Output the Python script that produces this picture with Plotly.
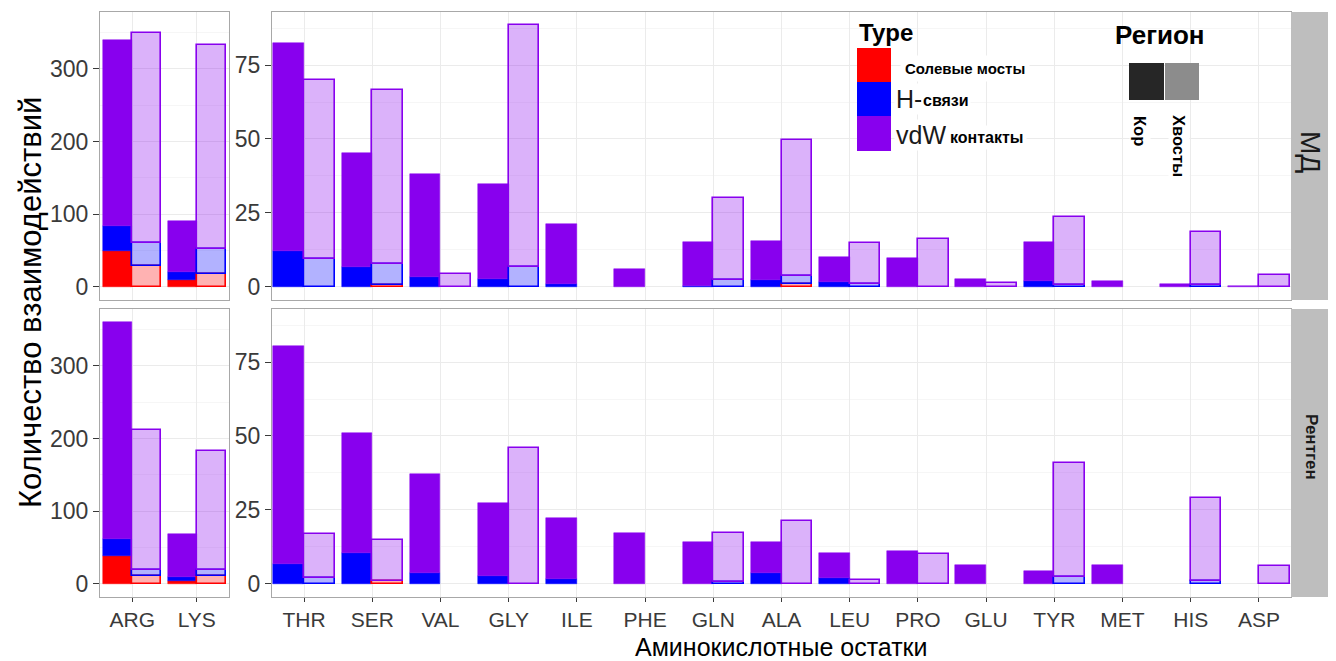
import plotly.graph_objects as go

# ---------------- data ----------------
left_cats = ["ARG", "LYS"]
right_cats = ["THR", "SER", "VAL", "GLY", "ILE", "PHE", "GLN", "ALA",
              "LEU", "PRO", "GLU", "TYR", "MET", "HIS", "ASP"]

type_names = ["Солевые мосты", "H-связи", "vdW контакты"]
region_names = ["Кор", "Хвосты"]
row_names = ["МД", "Рентген"]

# segment heights (salt bridges, H-bonds, vdW), stacked in that order
# --- МД, left (ARG, LYS)
md_left_core_salt = [49, 10]
md_left_core_hb = [35, 10]
md_left_core_vdw = [256, 70]
md_left_tail_salt = [29, 18]
md_left_tail_hb = [32, 34]
md_left_tail_vdw = [288, 281]
# --- Рентген, left
xr_left_core_salt = [39, 4.5]
xr_left_core_hb = [22.5, 4.5]
xr_left_core_vdw = [298.5, 59.5]
xr_left_tail_salt = [10.5, 11.5]
xr_left_tail_hb = [9, 8]
xr_left_tail_vdw = [192, 163]

# --- МД, right
md_right_core_salt = [0, 0, 0, 0, 0, 0, 0, 0, 0, 0, 0, 0, 0, 0, 0]
md_right_core_hb = [12.2, 6.9, 3.2, 2.6, 0.9, 0, 0.4, 2.4, 1.5, 0, 0, 2.0, 0, 0, 0]
md_right_core_vdw = [70.2, 38.4, 35.0, 32.1, 20.5, 6.2, 14.8, 13.1, 8.6, 9.7, 2.6, 13.3, 1.9, 1.1, 0.4]
md_right_tail_salt = [0, 0.8, 0, 0, 0, 0, 0, 1.0, 0, 0, 0, 0, 0, 0, 0]
md_right_tail_hb = [9.4, 6.9, 0, 6.9, 0, 0, 2.3, 2.7, 1.1, 0, 0, 0.8, 0, 0.6, 0]
md_right_tail_vdw = [60.6, 58.8, 4.5, 81.6, 0, 0, 27.9, 46.0, 13.6, 16.1, 1.3, 23.0, 0, 18.1, 3.9]

# --- Рентген, right
xr_right_core_salt = [0, 0, 0, 0, 0, 0, 0, 0, 0, 0, 0, 0, 0, 0, 0]
xr_right_core_hb = [6.6, 10.5, 3.8, 2.7, 1.8, 0, 0, 3.6, 1.9, 0, 0, 0, 0, 0, 0]
xr_right_core_vdw = [73.9, 40.5, 33.3, 24.6, 20.4, 17.2, 14.2, 10.6, 8.4, 11.2, 6.4, 4.4, 6.4, 0, 0]
xr_right_tail_salt = [0, 1.0, 0, 0, 0, 0, 0, 0, 0, 0, 0, 0, 0, 0, 0]
xr_right_tail_hb = [2.0, 0, 0, 0, 0, 0, 0.8, 0, 0, 0, 0, 2.2, 0, 1.0, 0]
xr_right_tail_vdw = [15.0, 14.0, 0, 46.0, 0, 0, 16.4, 21.1, 1.2, 10.1, 0, 38.8, 0, 28.1, 6.1]

y_ticks_left = [0, 100, 200, 300]
y_ticks_right = [0, 25, 50, 75]

# ---------------- styling ----------------
W, H = 1336, 661
type_rgb = [(255, 0, 0), (0, 0, 255), (136, 0, 238)]
FONT = "Liberation Sans, Arial, sans-serif"
TICKCOL = "#3a3a3a"
GRID = "#EBEBEB"
BORDER = "#A8A8A8"


def px_x(p):
    return p / W


def px_y(p):
    return 1 - p / H


panels = {
    (0, 0): ("x", "y", (100, 229), (12, 300)),
    (0, 1): ("x2", "y2", (272, 1291), (12, 300)),
    (1, 0): ("x3", "y3", (100, 229), (309, 597)),
    (1, 1): ("x4", "y4", (272, 1291), (309, 597)),
}

data = {
    (0, 0): ([md_left_core_salt, md_left_core_hb, md_left_core_vdw],
             [md_left_tail_salt, md_left_tail_hb, md_left_tail_vdw]),
    (1, 0): ([xr_left_core_salt, xr_left_core_hb, xr_left_core_vdw],
             [xr_left_tail_salt, xr_left_tail_hb, xr_left_tail_vdw]),
    (0, 1): ([md_right_core_salt, md_right_core_hb, md_right_core_vdw],
             [md_right_tail_salt, md_right_tail_hb, md_right_tail_vdw]),
    (1, 1): ([xr_right_core_salt, xr_right_core_hb, xr_right_core_vdw],
             [xr_right_tail_salt, xr_right_tail_hb, xr_right_tail_vdw]),
}

BW = 0.45
fig = go.Figure()

col_max = {0: 0, 1: 0}
for (r, c), (core, tail) in data.items():
    cats = left_cats if c == 0 else right_cats
    xa, ya, _, _ = panels[(r, c)]
    for ri, segs in enumerate([core, tail]):
        base = [0.0] * len(cats)
        for ti, vals in enumerate(segs):
            rr, gg, bb = type_rgb[ti]
            yv = [v if v > 0 else None for v in vals]
            if ri == 0:
                fill = f"rgb({rr},{gg},{bb})"
                line = dict(color=fill, width=0.5)
                off = -BW
            else:
                fill = f"rgba({rr},{gg},{bb},0.3)"
                line = dict(color=f"rgb({rr},{gg},{bb})", width=1.6)
                off = 0
            fig.add_trace(go.Bar(
                x=cats, y=yv, base=list(base), offset=off, width=BW,
                marker=dict(color=fill, line=line),
                xaxis=xa, yaxis=ya, showlegend=False,
                name=f"{type_names[ti]} / {region_names[ri]}",
                hovertemplate="%{x}: %{y}<extra></extra>",
            ))
            base = [b + v for b, v in zip(base, vals)]
        col_max[c] = max(col_max[c], max(base))

layout = dict(
    width=W, height=H, margin=dict(l=0, r=0, t=0, b=0),
    paper_bgcolor="white", plot_bgcolor="white",
    barmode="overlay", bargap=0,
    font=dict(family=FONT, color=TICKCOL),
)

TICKSIZE = 21
for (r, c), (xa, ya, xd, yd) in panels.items():
    xkey = "xaxis" + xa[1:]
    ykey = "yaxis" + ya[1:]
    cats = left_cats if c == 0 else right_cats
    yt = y_ticks_left if c == 0 else y_ticks_right
    exp_x = 0.5 if c == 0 else 0.47
    ymax = col_max[c] * 1.05
    layout[xkey] = dict(
        domain=[px_x(xd[0]), px_x(xd[1])], anchor=ya,
        type="category", categoryorder="array", categoryarray=cats,
        range=[-exp_x, len(cats) - 1 + exp_x],
        showgrid=True, gridcolor=GRID, gridwidth=1,
        showline=True, mirror=True, linecolor=BORDER, linewidth=1,
        ticks="outside" if r == 1 else "", ticklen=4, tickcolor=TICKCOL,
        showticklabels=(r == 1), tickfont=dict(size=TICKSIZE, color=TICKCOL, family=FONT),
        zeroline=False, fixedrange=True,
    )
    layout[ykey] = dict(
        domain=[px_y(yd[1]), px_y(yd[0])], anchor=xa,
        range=[-col_max[c] * 0.05, ymax],
        tickvals=yt,
        showgrid=True, gridcolor=GRID, gridwidth=1,
        minor=dict(showgrid=True, gridcolor="#F6F6F6",
                   tickvals=[v + yt[1] / 2 for v in yt]),
        showline=True, mirror=True, linecolor=BORDER, linewidth=1,
        ticks="outside", ticklen=6, tickcolor=TICKCOL,
        tickfont=dict(size=23, color=TICKCOL, family=FONT),
        zeroline=False, fixedrange=True,
    )

shapes = []
annotations = []


def ann(x, y, text, size, color="black", xanchor="center", yanchor="middle",
        angle=0, bg=None, pad=1):
    d = dict(xref="paper", yref="paper", x=px_x(x), y=px_y(y), text=text,
             showarrow=False, xanchor=xanchor, yanchor=yanchor, textangle=angle,
             borderpad=pad, font=dict(size=size, color=color, family=FONT))
    if bg:
        d["bgcolor"] = bg
    annotations.append(d)


# strips
for r, (y0, y1) in enumerate([(12, 300), (309, 597)]):
    shapes.append(dict(type="rect", xref="paper", yref="paper",
                       x0=px_x(1291), x1=px_x(1328), y0=px_y(y1), y1=px_y(y0),
                       fillcolor="#BEBEBE", line=dict(width=0), layer="above"))
ann(1311, 152, row_names[0], 28, "#1a1a1a", angle=90)
ann(1311, 447, "<b>" + row_names[1] + "</b>", 17, "#1a1a1a", angle=90)

# axis titles
ann(30, 303, "Количество взаимодействий", 31, angle=-90)
ann(781, 662, "Аминокислотные остатки", 25, yanchor="bottom", pad=0)

# Type legend
ann(857, 32, "<b>Type</b>", 24, xanchor="left")
for ti, (y0, y1) in enumerate([(48, 82), (82, 116), (116, 151)]):
    rr, gg, bb = type_rgb[ti]
    shapes.append(dict(type="rect", xref="paper", yref="paper",
                       x0=px_x(857), x1=px_x(891), y0=px_y(y1), y1=px_y(y0),
                       fillcolor=f"rgb({rr},{gg},{bb})", line=dict(width=0), layer="above"))
ann(900, 68, "<b>Солевые мосты</b>", 15, xanchor="left", bg="white", pad=4)
ann(894, 99, "H-", 25, "#1a1a1a", xanchor="left", bg="white")
ann(921, 101, "<b>связи</b>", 16, xanchor="left", bg="white")
ann(894, 135, "vdW", 25, "#1a1a1a", xanchor="left", bg="white")
ann(946, 137, "<b>контакты</b>", 16, xanchor="left", bg="white", pad=3)

# Region legend
ann(1160, 35, "<b>Регион</b>", 26)
for (x0, x1), col in zip([(1129, 1164), (1165, 1199)], ["#262626", "#8C8C8C"]):
    shapes.append(dict(type="rect", xref="paper", yref="paper",
                       x0=px_x(x0), x1=px_x(x1), y0=px_y(100), y1=px_y(63),
                       fillcolor=col, line=dict(width=0), layer="above"))
ann(1140, 131, "<b>" + region_names[0] + "</b>", 16.5, angle=90, bg="white")
ann(1179, 146, "<b>" + region_names[1] + "</b>", 16.5, angle=90, bg="white")

layout["shapes"] = shapes
layout["annotations"] = annotations
fig.update_layout(**layout)
fig.write_html("out.html", config={"displayModeBar": False},
               post_script="document.body.style.margin='0';document.body.style.overflow='hidden';")
